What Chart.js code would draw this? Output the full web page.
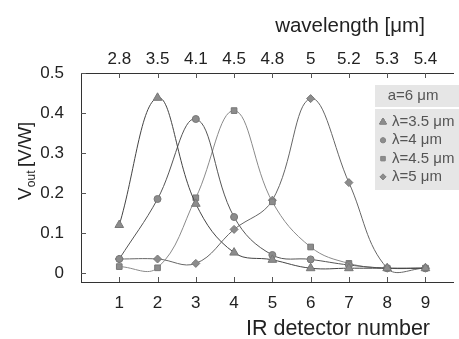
<!DOCTYPE html>
<html>
<head>
<meta charset="utf-8">
<script src="https://cdn.jsdelivr.net/npm/chart.js@4/dist/chart.umd.min.js"></script>
<style>
  body { margin: 0; background: #fff; }
  canvas { display: block; }
</style>
</head>
<body>
<canvas id="chart" width="459" height="339"></canvas>
<script>
// detector numbers and matching wavelengths on the top axis
const detectors = [1, 2, 3, 4, 5, 6, 7, 8, 9];
const wavelengths = ['2.8', '3.5', '4.1', '4.5', '4.8', '5', '5.2', '5.3', '5.4'];
const yTicks = [0, 0.1, 0.2, 0.3, 0.4, 0.5];

// V_out per detector, one array per illumination wavelength
const lambda35 = [0.120, 0.438, 0.173, 0.051, 0.033, 0.012, 0.012, 0.012, 0.012];
const lambda4  = [0.035, 0.185, 0.385, 0.140, 0.045, 0.034, 0.020, 0.012, 0.012];
const lambda45 = [0.016, 0.013, 0.188, 0.406, 0.178, 0.065, 0.024, 0.012, 0.012];
const lambda5  = [0.035, 0.035, 0.024, 0.109, 0.182, 0.436, 0.226, 0.012, 0.012];

const font = '"Liberation Sans", Arial, Helvetica, sans-serif';
const ink = '#222';

const series = [
    { label: 'λ=3.5 μm', data: lambda35, style: 'triangle', radius: 5, line: '#444' },
    { label: 'λ=4 μm',   data: lambda4,  style: 'circle',   radius: 3.5, line: '#555' },
    { label: 'λ=4.5 μm', data: lambda45, style: 'rect',     radius: 4, line: '#8a8a8a' },
    { label: 'λ=5 μm',   data: lambda5,  style: 'rectRot',  radius: 4, line: '#666' }
];

const datasets = series.map(s => ({
    label: s.label,
    data: s.data.map((v, i) => ({ x: detectors[i], y: v })),
    borderColor: s.line,
    borderWidth: 1,
    tension: 0.4,
    pointStyle: s.style,
    pointRadius: s.radius,
    pointBackgroundColor: '#8c8c8c',
    pointBorderColor: '#777',
    pointBorderWidth: 1
}));

// inward tick marks, legend boxes and axis titles
const decorations = {
    id: 'decorations',
    afterDraw(chart) {
        const ctx = chart.ctx;
        const area = chart.chartArea;
        const { x, y } = chart.scales;
        ctx.save();
        ctx.strokeStyle = '#555';
        ctx.lineWidth = 1;
        ctx.beginPath();
        detectors.forEach(d => {
            const px = Math.round(x.getPixelForValue(d)) + 0.5;
            ctx.moveTo(px, area.bottom);
            ctx.lineTo(px, area.bottom - 5);
            ctx.moveTo(px, area.top);
            ctx.lineTo(px, area.top + 5);
        });
        yTicks.forEach(v => {
            const py = Math.round(y.getPixelForValue(v)) + 0.5;
            ctx.moveTo(area.left, py);
            ctx.lineTo(area.left + 5, py);
        });
        ctx.stroke();

        // legend
        ctx.fillStyle = '#e6e6e6';
        ctx.fillRect(375, 85, 84, 22);
        ctx.fillRect(375, 109, 84, 81);
        ctx.fillStyle = '#555';
        ctx.font = '15px ' + font;
        ctx.textBaseline = 'middle';
        ctx.textAlign = 'center';
        ctx.fillText('a=6 μm', 413, 96);
        ctx.textAlign = 'left';
        series.forEach((s, i) => {
            const ly = 122 + i * 18.3;
            Chart.helpers.drawPoint(ctx, {
                pointStyle: s.style,
                radius: s.radius - 1,
                borderWidth: 1
            }, 383, ly);
            ctx.fillStyle = '#8c8c8c';
            ctx.strokeStyle = '#888';
            ctx.fill();
            ctx.stroke();
            ctx.fillStyle = '#555';
            ctx.fillText(s.label, 392, ly);
        });

        // axis titles
        ctx.fillStyle = ink;
        ctx.textAlign = 'center';
        ctx.textBaseline = 'alphabetic';
        ctx.font = '21.5px ' + font;
        ctx.fillText('IR detector number', 338, 335);
        ctx.font = '20.5px ' + font;
        ctx.fillText('wavelength [μm]', 350, 32);

        ctx.translate(31, 200);
        ctx.rotate(-Math.PI / 2);
        ctx.textAlign = 'left';
        ctx.font = '18.5px ' + font;
        ctx.fillText('V', 0, 0);
        let w = ctx.measureText('V').width;
        ctx.font = '12px ' + font;
        ctx.fillText('out', w + 0.5, 4);
        w += ctx.measureText('out').width + 4;
        ctx.font = '18.5px ' + font;
        ctx.fillText('[V/W]', w, 0);
        ctx.restore();
    }
};

new Chart(document.getElementById('chart'), {
    type: 'line',
    data: { datasets },
    options: {
        responsive: false,
        animation: false,
        layout: { padding: { left: 0, right: 1, top: 0, bottom: 0 } },
        plugins: { legend: { display: false }, tooltip: { enabled: false } },
        scales: {
            x: {
                type: 'linear',
                position: 'bottom',
                min: 0,
                max: 9.72,
                afterBuildTicks: s => { s.ticks = detectors.map(v => ({ value: v })); },
                afterFit: s => { s.height = 57; },
                grid: { display: false },
                border: { display: true, color: '#333', width: 1 },
                ticks: { color: ink, font: { family: font, size: 17 }, padding: 3, maxRotation: 0 }
            },
            x2: {
                type: 'linear',
                position: 'top',
                min: 0,
                max: 9.72,
                afterBuildTicks: s => { s.ticks = detectors.map(v => ({ value: v })); },
                afterFit: s => { s.height = 73; },
                grid: { display: false },
                border: { display: true, color: '#333', width: 1 },
                ticks: {
                    color: ink, font: { family: font, size: 17 }, padding: -5, maxRotation: 0,
                    callback: v => wavelengths[v - 1] || ''
                }
            },
            y: {
                min: -0.0225,
                max: 0.5,
                afterBuildTicks: s => { s.ticks = yTicks.map(v => ({ value: v })); },
                afterFit: s => { s.width = 81; },
                grid: { display: false },
                border: { display: true, color: '#333', width: 1 },
                ticks: {
                    color: ink, font: { family: font, size: 17 }, padding: 9,
                    callback: v => v === 0 ? '0' : v.toFixed(1)
                }
            }
        }
    },
    plugins: [decorations]
});
</script>
</body>
</html>
